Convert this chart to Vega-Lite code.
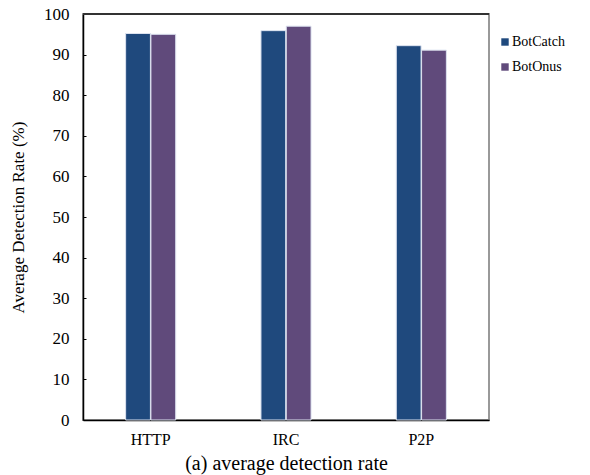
{
  "$schema": "https://vega.github.io/schema/vega-lite/v6.json",
  "autosize": "none",
  "width": 406,
  "height": 406,
  "padding": {"left": 83, "top": 14, "right": 101, "bottom": 55},
  "background": "white",
  "config": {
    "font": "Liberation Serif",
    "view": {"stroke": "#999999", "strokeWidth": 2}
  },
  "data": {
    "values": [
      {"protocol": "HTTP", "method": "BotCatch", "rate": 95.2},
      {"protocol": "HTTP", "method": "BotOnus", "rate": 95.0},
      {"protocol": "IRC", "method": "BotCatch", "rate": 95.9},
      {"protocol": "IRC", "method": "BotOnus", "rate": 97.0},
      {"protocol": "P2P", "method": "BotCatch", "rate": 92.2},
      {"protocol": "P2P", "method": "BotOnus", "rate": 91.1}
    ]
  },
  "layer": [
    {
      "mark": {"type": "bar", "stroke": "#dde3f0", "strokeWidth": 1},
      "encoding": {
        "x": {
          "field": "protocol",
          "type": "nominal",
          "sort": ["HTTP", "IRC", "P2P"],
          "scale": {"paddingInner": 0.63, "paddingOuter": 0.315},
          "axis": {
            "title": "(a) average detection rate",
            "titleFontSize": 20,
            "titleFontWeight": "normal",
            "titleColor": "black",
            "titlePadding": 6,
            "labelFontSize": 16,
            "labelColor": "black",
            "labelAngle": 0,
            "labelPadding": 11,
            "ticks": false,
            "domainColor": "black",
            "domainWidth": 1.5
          }
        },
        "xOffset": {"field": "method", "type": "nominal", "scale": {"paddingInner": 0.02}},
        "y": {
          "field": "rate",
          "type": "quantitative",
          "scale": {"domain": [0, 100]},
          "axis": {
            "title": "Average Detection Rate (%)",
            "titleFontSize": 17,
            "titleFontWeight": "normal",
            "titleColor": "black",
            "titlePadding": 16,
            "values": [0, 10, 20, 30, 40, 50, 60, 70, 80, 90, 100],
            "labelFontSize": 17,
            "labelColor": "black",
            "labelPadding": 17,
            "grid": false,
            "tickSize": -3,
            "tickColor": "black",
            "domainColor": "black",
            "domainWidth": 1.5
          }
        },
        "color": {
          "field": "method",
          "type": "nominal",
          "scale": {"domain": ["BotCatch", "BotOnus"], "range": ["#1f497d", "#604a7b"]},
          "legend": {
            "title": null,
            "orient": "none",
            "legendX": 415,
            "legendY": 21,
            "symbolType": "square",
            "symbolSize": 55,
            "symbolStrokeWidth": 0,
            "labelFontSize": 14,
            "labelColor": "black",
            "labelOffset": 0,
            "rowPadding": 11
          }
        }
      }
    },
    {
      "mark": {"type": "rule", "color": "#333333", "strokeWidth": 1.5},
      "encoding": {"y": {"datum": 100}}
    }
  ]
}
